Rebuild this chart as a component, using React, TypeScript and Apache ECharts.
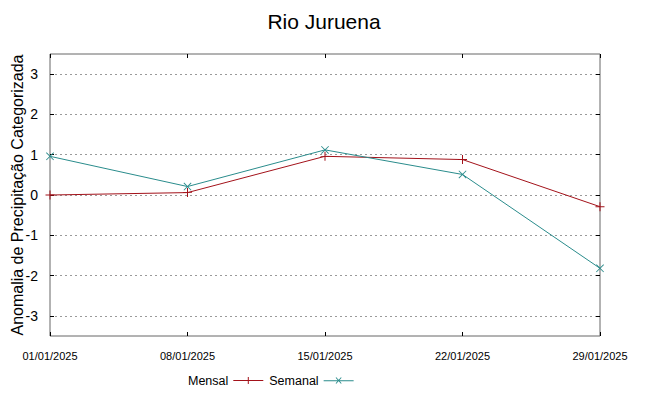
import React, { useEffect, useRef } from "react";
import * as echarts from "echarts";

const categories = ["01/01/2025", "08/01/2025", "15/01/2025", "22/01/2025", "29/01/2025"];
const mensal = [0.0, 0.06, 0.96, 0.88, -0.29];
const semanal = [0.96, 0.21, 1.12, 0.51, -1.82];
const yTicks = [-3, -2, -1, 0, 1, 2, 3];

const RED = "#a3121a";
const TEAL = "#2a8c8c";
const PLUS = "path://M0,4.5h9v1H0z M4,0h1v10H4z";
const CROSS = "path://M0.7,0L9,8.3L8.3,9L0,0.7z M8.3,0L9,0.7L0.7,9L0,8.3z";
const LEG_PLUS = "path://M0,4h30v1H0z M14.5,1h1v7h-1z";
const LEG_CROSS = "path://M0,4h30v1H0z M12,1.5L12.7,1L18,7L17.3,7.5z M17.3,1L18,1.5L12.7,7.5L12,7z";

export default function App() {
  const ref = useRef<HTMLDivElement>(null);
  useEffect(() => {
    if (!ref.current) return;
    const chart = echarts.init(ref.current, null, { renderer: "svg" });
    const sans = "'Liberation Sans', Arial, sans-serif";
    const tick = { show: true, inside: true, length: 4, lineStyle: { color: "#000" } };
    chart.setOption({
      animation: false,
      backgroundColor: "#ffffff",
      title: {
        text: "Rio Juruena",
        left: "center",
        top: 6,
        textStyle: { fontFamily: sans, fontSize: 21, fontWeight: "normal", color: "#000" },
      },
      legend: {
        bottom: 4,
        left: 183,
        align: "right",
        itemWidth: 30,
        itemHeight: 9,
        itemGap: 6,
        textStyle: { fontFamily: sans, fontSize: 12.5, color: "#000" },
        data: [
          { name: "Mensal", icon: LEG_PLUS, itemStyle: { color: RED } },
          { name: "Semanal", icon: LEG_CROSS, itemStyle: { color: TEAL } },
        ],
      },
      grid: {
        left: 50,
        right: 48,
        top: 54,
        bottom: 60,
        show: true,
        borderColor: "#666",
        borderWidth: 1,
        containLabel: false,
        outerBoundsMode: "none",
      },
      xAxis: [
        {
          type: "category",
          data: categories,
          boundaryGap: false,
          position: "bottom",
          axisLine: { show: false, onZero: false },
          axisTick: tick,
          axisLabel: { fontFamily: sans, fontSize: 11, color: "#000", margin: 14 },
          splitLine: { show: false },
        },
        {
          type: "category",
          data: categories,
          boundaryGap: false,
          position: "top",
          axisLine: { show: false, onZero: false },
          axisTick: tick,
          axisLabel: { show: false },
          splitLine: { show: false },
        },
      ],
      yAxis: [
        {
          type: "value",
          min: -3.5,
          max: 3.5,
          position: "left",
          name: "Anomalia de Precipitação Categorizada",
          nameLocation: "middle",
          nameGap: 25,
          nameMoveOverlap: false,
          nameTextStyle: { fontFamily: sans, fontSize: 16, color: "#000" },
          axisLine: { show: false, onZero: false },
          axisTick: { ...tick, customValues: yTicks },
          axisLabel: { fontFamily: sans, fontSize: 14, color: "#000", margin: 12, customValues: yTicks },
          splitLine: { show: true, lineStyle: { color: "#9a9a9a", type: [2, 3], width: 1 } },
        },
        {
          type: "value",
          min: -3.5,
          max: 3.5,
          position: "right",
          axisLine: { show: false, onZero: false },
          axisTick: { ...tick, customValues: yTicks },
          axisLabel: { show: false, customValues: yTicks },
          splitLine: { show: false },
        },
      ],
      series: [
        {
          name: "Mensal",
          type: "line",
          data: mensal,
          symbol: PLUS,
          symbolSize: 9,
          showAllSymbol: true,
          lineStyle: { color: RED, width: 1 },
          itemStyle: { color: RED },
          z: 3,
        },
        {
          name: "Semanal",
          type: "line",
          data: semanal,
          symbol: CROSS,
          symbolSize: 8,
          showAllSymbol: true,
          lineStyle: { color: TEAL, width: 1 },
          itemStyle: { color: TEAL },
          z: 4,
        },
      ],
    });
    return () => chart.dispose();
  }, []);
  return <div ref={ref} style={{ width: 648, height: 396, position: "absolute", left: 0, top: 0 }} />;
}
